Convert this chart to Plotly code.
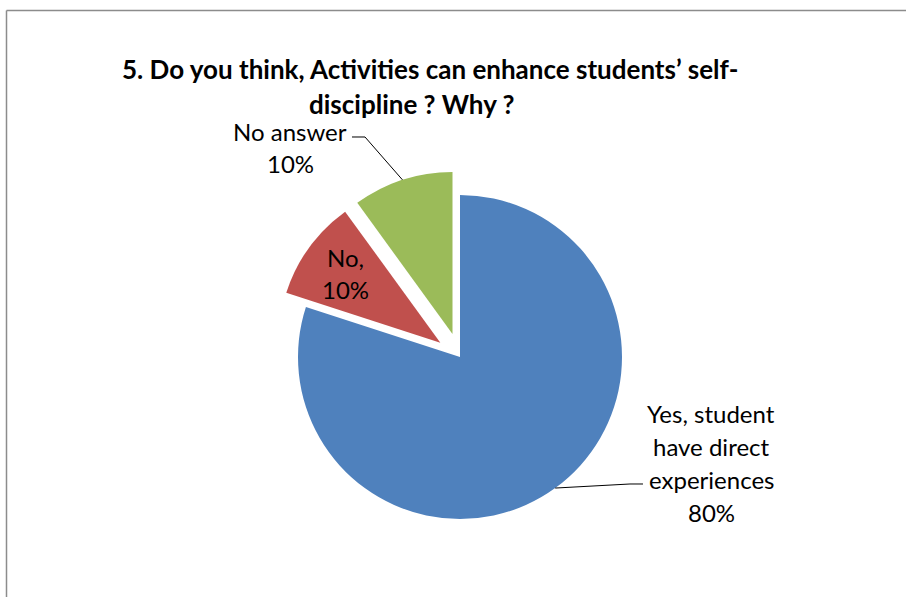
import math
import plotly.graph_objects as go

# ---- data ----
labels = ["Yes, student have direct experiences", "No", "No answer"]
values = [80, 10, 10]
colors = ["#4F81BD", "#C0504D", "#9BBB59"]
pulls = [0.0, 0.15, 0.15]
title_lines = ["5. Do you think, Activities can enhance students’ self-", "discipline ? Why ?"]

W, H = 906, 597
FONT = "Lato"

# pie geometry (pixels)
CX, CY, R = 460, 357, 162
box = 2 * R * (1 + max(pulls))


def px(x):
    return x / W


def py(y):
    return 1 - y / H


fig = go.Figure(go.Pie(
    labels=labels, values=values, sort=False, direction="clockwise", rotation=0,
    pull=pulls, marker=dict(colors=colors, line=dict(width=0)),
    textinfo="none", hoverinfo="label+percent", showlegend=False,
    domain=dict(x=[px(CX - box / 2), px(CX + box / 2)],
                y=[py(CY + box / 2), py(CY - box / 2)]),
))

total = sum(values)
pcts = [f"{round(v / total * 100)}%" for v in values]


def slice_point(i, frac=1.0):
    start = sum(values[:i]) / total * 360
    mid = math.radians(start + values[i] / total * 360 / 2)
    ox = pulls[i] * R * math.sin(mid)
    oy = -pulls[i] * R * math.cos(mid)
    return (CX + ox + frac * R * math.sin(mid), CY + oy - frac * R * math.cos(mid))


annotations = []


def add_lines(lines, xc, ys, size, bold=False):
    for t, y in zip(lines, ys):
        annotations.append(dict(
            text=f"<b>{t}</b>" if bold else t, x=px(xc), y=py(y), xref="paper", yref="paper",
            xanchor="center", yanchor="middle", showarrow=False,
            font=dict(family=FONT, size=size, color="#000000")))


add_lines(title_lines[:1], 430, [69], 26, bold=True)
add_lines(title_lines[1:], 412, [104], 26, bold=True)
add_lines(["No answer", pcts[2]], 290, [131, 163], 24)
add_lines(["No,", pcts[1]], 345, [257, 289], 24)
add_lines(["Yes, student", "have direct", "experiences", pcts[0]], 711, [413, 446, 479, 512], 24)

shapes = [
    dict(type="line", xref="paper", yref="paper", x0=px(6.5), x1=1, y0=py(10.5), y1=py(10.5),
         line=dict(color="#8c8c8c", width=1.5)),
    dict(type="line", xref="paper", yref="paper", x0=px(6.5), x1=px(6.5), y0=py(10.5), y1=0,
         line=dict(color="#8c8c8c", width=1.5)),
]

# leader lines
gx, gy = slice_point(2)
yx, yy = slice_point(0)
leaders = [
    [(352, 137), (365, 137), (gx, gy)],
    [(yx, yy), (630, 484), (643, 484)],
]
for pts in leaders:
    path = "M " + " L ".join(f"{px(x):.5f},{py(y):.5f}" for x, y in pts)
    shapes.append(dict(type="path", xref="paper", yref="paper", path=path,
                       line=dict(color="#000000", width=1)))

fig.update_layout(
    width=W, height=H, margin=dict(l=0, r=0, t=0, b=0),
    paper_bgcolor="white", plot_bgcolor="white",
    annotations=annotations, shapes=shapes,
)

fig.write_html("out.html")
